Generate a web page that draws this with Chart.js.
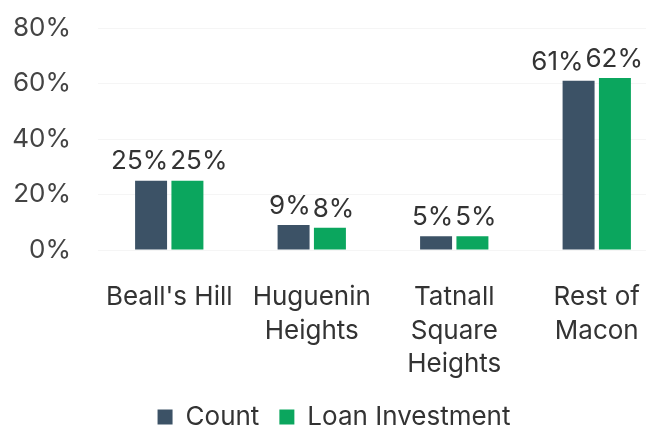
<!DOCTYPE html>
<html>
<head>
<meta charset="utf-8">
<script src="https://cdn.jsdelivr.net/npm/chart.js@4"></script>
<style>
  html, body { margin: 0; padding: 0; background: #fff; overflow: hidden; }
  #wrap { width: 668px; height: 428px; }
</style>
</head>
<body>
<div id="wrap"><canvas id="grafico"></canvas></div>
<script>
const categorias = [["Beall's Hill"], ["Huguenin", "Heights"], ["Tatnall", "Square", "Heights"], ["Rest of", "Macon"]];
const countVals = [25, 9, 5, 61];
const loanVals = [25, 8, 5, 62];
const yTicks = [0, 20, 40, 60, 80];

const fonte = "Inter, 'Open Sans', sans-serif";
const tam = 26;
const larguraVisivel = 646;

// desenha os rótulos de % em cima das barras, afastando quando se sobrepõem
const rotulos = {
  id: "rotulos",
  afterDatasetsDraw(chart) {
    const ctx = chart.ctx;
    ctx.save();
    ctx.font = tam + "px " + fonte;
    ctx.fillStyle = "#333";
    ctx.textAlign = "center";
    ctx.textBaseline = "bottom";
    const a = chart.getDatasetMeta(0).data;
    const b = chart.getDatasetMeta(1).data;
    const dsA = chart.data.datasets[0].data;
    const dsB = chart.data.datasets[1].data;
    a.forEach((barA, j) => {
      const barB = b[j];
      const tA = dsA[j] + "%";
      const tB = dsB[j] + "%";
      const wA = ctx.measureText(tA).width;
      const wB = ctx.measureText(tB).width;
      let xA = barA.x, xB = barB.x;
      const minDist = (wA + wB) / 2 + 2;
      if (xB - xA < minDist) {
        const extra = (minDist - (xB - xA)) / 2;
        xA -= extra;
        xB += extra;
      }
      const sobra = xB + wB / 2 - (larguraVisivel - 3);
      if (sobra > 0) { xA -= sobra; xB -= sobra; }
      ctx.fillText(tA, xA, barA.y - 6);
      ctx.fillText(tB, xB, barB.y - 6);
    });
    ctx.restore();
  }
};

// legenda com altura fixa, para ficar junto ao fundo
const legendaFixa = {
  id: "legendaFixa",
  beforeLayout(chart) {
    const lg = chart.legend;
    if (!lg || lg._fixa) return;
    const fitOrig = lg.fit.bind(lg);
    lg.fit = function () {
      fitOrig();
      this.height = 44;
    };
    lg._fixa = true;
  }
};

new Chart(document.getElementById("grafico"), {
  type: "bar",
  data: {
    labels: categorias,
    datasets: [
      { label: "Count", data: countVals, backgroundColor: "#3c5266" },
      { label: "Loan Investment", data: loanVals, backgroundColor: "#0ba65e" }
    ]
  },
  options: {
    responsive: true,
    maintainAspectRatio: false,
    animation: false,
    categoryPercentage: 0.51,
    barPercentage: 0.88,
    layout: { padding: { top: 28, left: 0, right: 0, bottom: 0 } },
    scales: {
      x: {
        grid: { display: false },
        border: { display: false },
        afterFit: (axis) => {
          axis.height = 134;
          axis.paddingLeft = 0;
          axis.paddingRight = 0;
        },
        ticks: { color: "#333", font: { size: tam, family: fonte, lineHeight: 1.3 }, padding: 22, maxRotation: 0 }
      },
      y: {
        min: 0,
        max: 80,
        afterBuildTicks: (axis) => { axis.ticks = yTicks.map(v => ({ value: v })); },
        afterFit: (axis) => {
          axis.width = 98;
          axis.paddingTop = 0;
          axis.paddingBottom = 0;
        },
        grid: { color: "#f5f5f5", drawTicks: false },
        border: { display: false },
        ticks: {
          color: "#444",
          font: { size: tam, family: fonte },
          padding: 27,
          callback: (v) => v + "%"
        }
      }
    },
    plugins: {
      legend: {
        position: "bottom",
        labels: {
          color: "#333",
          font: { size: tam, family: fonte, lineHeight: 1 },
          boxWidth: 15,
          boxHeight: 15,
          padding: 20
        }
      },
      tooltip: { enabled: false }
    }
  },
  plugins: [rotulos, legendaFixa]
});
</script>
</body>
</html>
